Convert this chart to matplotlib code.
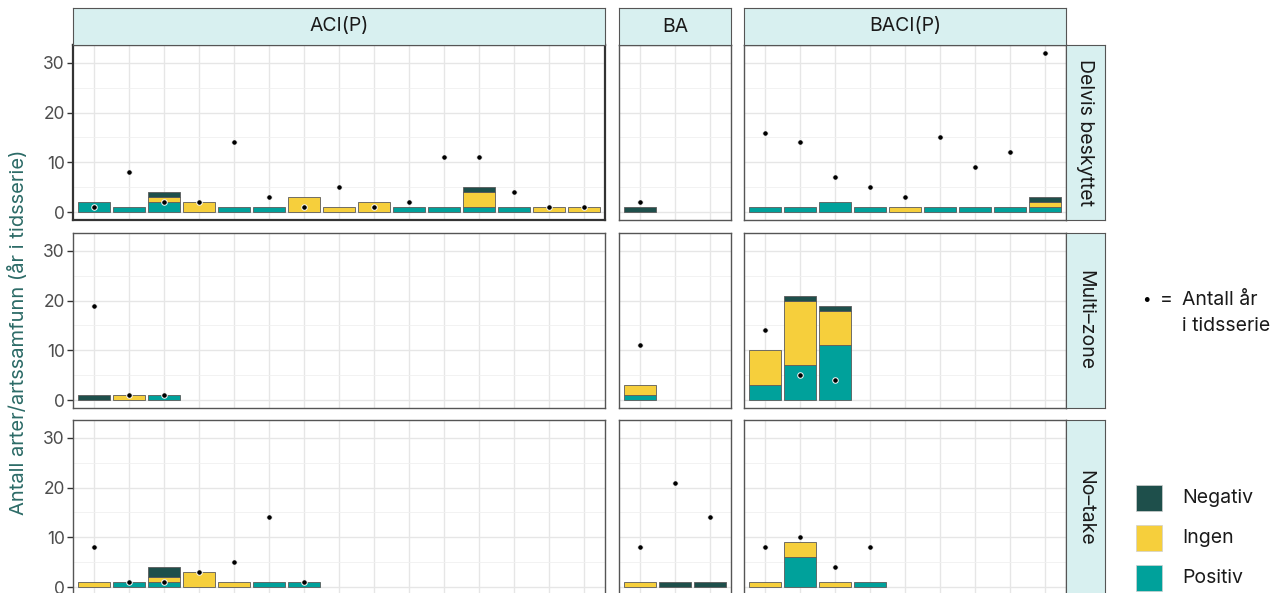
import numpy as np
import matplotlib.pyplot as plt
from matplotlib.patches import Rectangle

plt.rcParams['font.family'] = ['Inter', 'DejaVu Sans']

# Facet layout
designs = ["ACI(P)", "BA", "BACI(P)"]
protection = ["Delvis beskyttet", "Multi\u2013zone", "No\u2013take"]
n_categories = {"ACI(P)": 15, "BA": 3, "BACI(P)": 9}

# Number of species/communities per effect, by design, for each protection level
delvis_positiv = {"ACI(P)": [2, 1, 2, 0, 1, 1, 0, 0, 0, 1, 1, 1, 1, 0, 0],
                  "BA": [0],
                  "BACI(P)": [1, 1, 2, 1, 0, 1, 1, 1, 1]}
delvis_ingen = {"ACI(P)": [0, 0, 1, 2, 0, 0, 3, 1, 2, 0, 0, 3, 0, 1, 1],
                "BA": [0],
                "BACI(P)": [0, 0, 0, 0, 1, 0, 0, 0, 1]}
delvis_negativ = {"ACI(P)": [0, 0, 1, 0, 0, 0, 0, 0, 0, 0, 0, 1, 0, 0, 0],
                  "BA": [1],
                  "BACI(P)": [0, 0, 0, 0, 0, 0, 0, 0, 1]}
delvis_aar = {"ACI(P)": [1, 8, 2, 2, 14, 3, 1, 5, 1, 2, 11, 11, 4, 1, 1],
              "BA": [2],
              "BACI(P)": [16, 14, 7, 5, 3, 15, 9, 12, 32]}

multi_positiv = {"ACI(P)": [0, 0, 1], "BA": [1], "BACI(P)": [3, 7, 11]}
multi_ingen = {"ACI(P)": [0, 1, 0], "BA": [2], "BACI(P)": [7, 13, 7]}
multi_negativ = {"ACI(P)": [1, 0, 0], "BA": [0], "BACI(P)": [0, 1, 1]}
multi_aar = {"ACI(P)": [19, 1, 1], "BA": [11], "BACI(P)": [14, 5, 4]}

notake_positiv = {"ACI(P)": [0, 1, 1, 0, 0, 1, 1], "BA": [0, 0, 0], "BACI(P)": [0, 6, 0, 1]}
notake_ingen = {"ACI(P)": [1, 0, 1, 3, 1, 0, 0], "BA": [1, 0, 0], "BACI(P)": [1, 3, 1, 0]}
notake_negativ = {"ACI(P)": [0, 0, 2, 0, 0, 0, 0], "BA": [0, 1, 1], "BACI(P)": [0, 0, 0, 0]}
notake_aar = {"ACI(P)": [8, 1, 1, 3, 5, 14, 1], "BA": [8, 21, 14], "BACI(P)": [8, 10, 4, 8]}

rows = [
    (delvis_positiv, delvis_ingen, delvis_negativ, delvis_aar),
    (multi_positiv, multi_ingen, multi_negativ, multi_aar),
    (notake_positiv, notake_ingen, notake_negativ, notake_aar),
]

colors = {"Negativ": "#1e4f4b", "Ingen": "#f6cf3c", "Positiv": "#00a19b"}
strip_fill = "#d8f0f0"
strip_edge = "#555555"
grid_col = "#e6e6e6"

W, H = 1279, 593
fig = plt.figure(figsize=(W / 100, H / 100), dpi=100)


def px_axes(left, top, right, bottom, **kw):
    return fig.add_axes([left / W, 1 - bottom / H, (right - left) / W, (bottom - top) / H], **kw)


def stacked(ax, x, height, bottom, color):
    # skip empty segments so no flat outlines are drawn at zero
    keep = height > 0
    ax.bar(x[keep], height[keep], bottom=bottom[keep], width=0.9, color=color,
           edgecolor="#5a5a5a", linewidth=0.6, zorder=3)


col_px = {"ACI(P)": (73, 605), "BA": (619, 731), "BACI(P)": (744, 1066)}
row_tops = [45, 233, 420]
row_h = 175

for r, (pos, ing, neg, aar) in enumerate(rows):
    top = row_tops[r]
    for c, design in enumerate(designs):
        left, right = col_px[design]
        ax = px_axes(left, top, right, top + row_h)
        n = n_categories[design]
        x = np.arange(1, n + 1)

        p = np.zeros(n); i = np.zeros(n); g = np.zeros(n); yrs = np.full(n, np.nan)
        k = len(pos[design])
        p[:k] = pos[design]; i[:k] = ing[design]; g[:k] = neg[design]; yrs[:k] = aar[design]

        stacked(ax, x, p, np.zeros(n), colors["Positiv"])
        stacked(ax, x, i, p, colors["Ingen"])
        stacked(ax, x, g, p + i, colors["Negativ"])
        ax.scatter(x, yrs, s=16, color="black", edgecolor="white", linewidth=0.7, zorder=4)

        ax.set_xlim(0.4, n + 0.6)
        ax.set_ylim(-1.6, 33.6)
        ax.set_xticks(x)
        ax.set_xticklabels([])
        ax.tick_params(axis="x", length=0)
        ax.set_yticks([0, 10, 20, 30])
        ax.set_yticks([5, 15, 25], minor=True)
        ax.grid(True, which="major", color=grid_col, linewidth=1.0, zorder=0)
        ax.grid(True, which="minor", axis="y", color="#f0f0f0", linewidth=0.6, zorder=0)
        ax.tick_params(axis="y", which="minor", length=0)
        ax.set_axisbelow(True)
        if c == 0:
            ax.tick_params(axis="y", length=4, width=1, color="#333333",
                           labelsize=12.5, labelcolor="#4d4d4d", pad=2)
        else:
            ax.tick_params(axis="y", length=0, labelleft=False)
        border_w = 1.6 if (r == 0 and c == 0) else 1.0
        border_c = "#333333" if (r == 0 and c == 0) else "#555555"
        for s in ax.spines.values():
            s.set_color(border_c)
            s.set_linewidth(border_w)

        # column strip on top
        if r == 0:
            sax = px_axes(left, 8, right, 45)
            sax.set_xticks([]); sax.set_yticks([])
            sax.set_facecolor(strip_fill)
            for s in sax.spines.values():
                s.set_color(strip_edge)
            sax.text(0.5, 0.5, design, ha="center", va="center", fontsize=14,
                     color="#1a1a1a", transform=sax.transAxes)

    # row strip on the right
    rax = px_axes(1066, top, 1105, top + row_h)
    rax.set_xticks([]); rax.set_yticks([])
    rax.set_facecolor(strip_fill)
    for s in rax.spines.values():
        s.set_color(strip_edge)
    rax.text(0.5, 0.5, protection[r], ha="center", va="center", rotation=-90,
             fontsize=14, color="#1a1a1a", transform=rax.transAxes)

fig.text(18 / W, 1 - 332 / H, "Antall arter/artssamfunn (år i tidsserie)", rotation=90,
         ha="center", va="center", fontsize=14.5, color="#2c6b67")

# dot legend
fig.text(1146 / W, 1 - 300 / H, "\u2022", ha="center", va="center", fontsize=11, color="black")
fig.text(1160 / W, 1 - 300 / H, "=", ha="left", va="center", fontsize=14, color="#1a1a1a")
fig.text(1182 / W, 1 - 300 / H, "Antall år", ha="left", va="center", fontsize=14, color="#1a1a1a")
fig.text(1182 / W, 1 - 326 / H, "i tidsserie", ha="left", va="center", fontsize=14, color="#1a1a1a")

# fill legend
legend_items = ["Negativ", "Ingen", "Positiv"]
legend_tops = [485, 525, 565]
for lab, t in zip(legend_items, legend_tops):
    fig.patches.append(Rectangle((1136 / W, 1 - (t + 26) / H), 26 / W, 26 / H,
                                 transform=fig.transFigure, facecolor=colors[lab],
                                 edgecolor="#d0d0d0", linewidth=0.5))
    fig.text(1182 / W, 1 - (t + 13) / H, lab, ha="left", va="center", fontsize=14,
             color="#1a1a1a")

fig.savefig("out.png", dpi=100)
